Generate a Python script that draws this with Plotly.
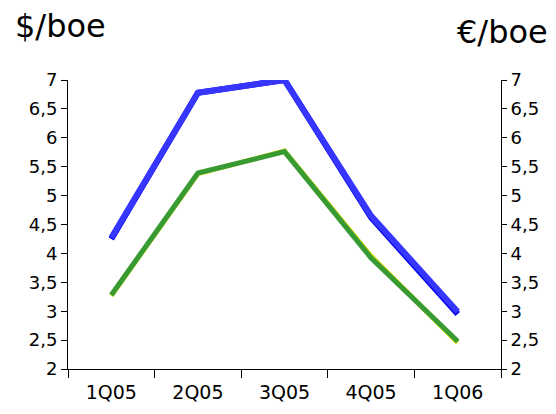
import plotly.graph_objects as go

quarters = ["1Q05", "2Q05", "3Q05", "4Q05", "1Q06"]
usd_boe = [4.27, 6.78, 7.0, 4.65, 2.99]
usd_boe_shadow = [4.25, 6.78, 7.0, 4.62, 2.95]
eur_boe = [3.28, 5.39, 5.76, 3.92, 2.48]
eur_boe_shadow = [3.27, 5.38, 5.77, 3.95, 2.46]
ytick_vals = [2, 2.5, 3, 3.5, 4, 4.5, 5, 5.5, 6, 6.5, 7]

FONT = "DejaVu Sans"

fig = go.Figure()
fig.add_trace(go.Scatter(x=quarters, y=usd_boe_shadow, mode="lines",
                         line=dict(color="#0000ee", width=6), yaxis="y", showlegend=False))
fig.add_trace(go.Scatter(x=quarters, y=eur_boe_shadow, mode="lines",
                         line=dict(color="#c8d800", width=5), yaxis="y", showlegend=False))
fig.add_trace(go.Scatter(x=quarters, y=usd_boe, mode="lines",
                         line=dict(color="#3636ff", width=6), yaxis="y2", showlegend=False))
fig.add_trace(go.Scatter(x=quarters, y=eur_boe, mode="lines",
                         line=dict(color="#379a33", width=5), yaxis="y2", showlegend=False))

def yax(side, ticklen):
    return dict(range=[2, 7], tickvals=ytick_vals, showgrid=False, zeroline=False,
                showline=True, linecolor="black", linewidth=1, automargin=False,
                ticks="outside", ticklen=ticklen, tickcolor="black", side=side,
                tickfont=dict(family=FONT, size=18, color="black"))

# page body has an 8px margin, so the figure is 8px smaller and shifted
fig.update_layout(
    width=548, height=406,
    margin=dict(l=60, r=55, t=72, b=45, autoexpand=False),
    paper_bgcolor="white", plot_bgcolor="white",
    separators=", ",
    xaxis=dict(type="category", tickson="boundaries", ticks="outside", ticklen=8,
               tickcolor="black", showline=True, linecolor="black", linewidth=1,
               showgrid=False, zeroline=False, range=[-0.5, 4.5], automargin=False,
               ticklabelstandoff=6,
               tickfont=dict(family=FONT, size=19, color="black")),
    yaxis=yax("left", 6),
    yaxis2=dict(**yax("right", 5), overlaying="y"),
    yaxis3=dict(range=[2, 7], tickvals=ytick_vals, showgrid=False, zeroline=False,
                showline=False, ticks="inside", ticklen=5, tickcolor="black",
                automargin=False,
                showticklabels=False, side="right", overlaying="y"),
    annotations=[
        dict(text="$/boe", xref="paper", yref="paper", x=-0.127, y=1.187,
             xanchor="left", yanchor="middle", showarrow=False,
             font=dict(family=FONT, size=32, color="black")),
        dict(text="€/boe", xref="paper", yref="paper", x=1.113, y=1.166,
             xanchor="right", yanchor="middle", showarrow=False,
             font=dict(family=FONT, size=32, color="black")),
    ],
)
fig.write_html("out.html")
